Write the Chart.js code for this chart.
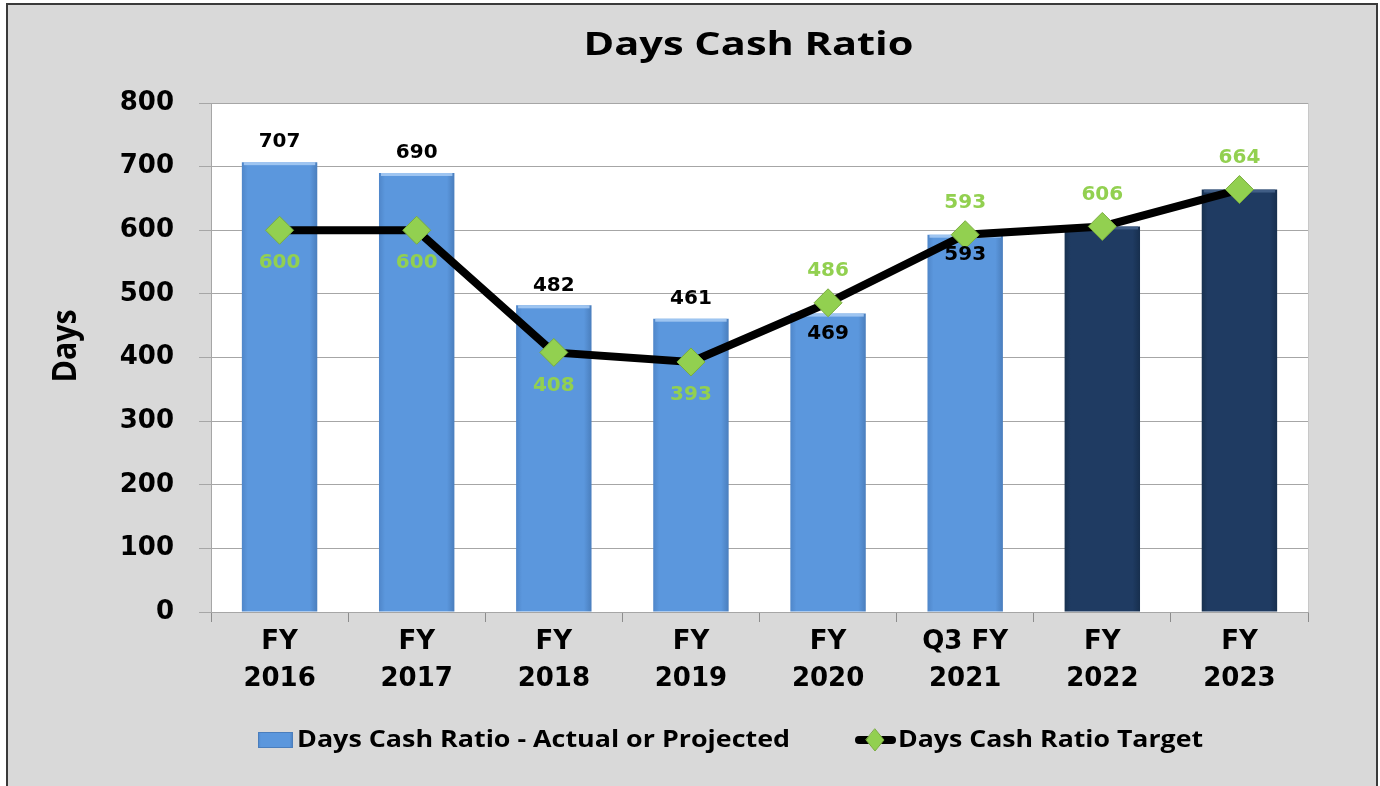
<!DOCTYPE html>
<html><head><meta charset="utf-8">
<script src="https://cdn.jsdelivr.net/npm/chart.js@4.4.1/dist/chart.umd.min.js"></script>
<style>
html,body{margin:0;padding:0;background:#fff;width:1380px;height:786px;overflow:hidden}
#frame{position:absolute;left:6px;top:3px;width:1372px;height:820px;border:2px solid #3a3a3a;background:#d9d9d9;box-sizing:border-box}
#wrap{position:absolute;left:0;top:0;width:1380px;height:786px}
</style></head><body>
<div id="frame"></div>
<div id="wrap"><canvas id="c"></canvas></div>
<script>
const categories = [['FY','2016'],['FY','2017'],['FY','2018'],['FY','2019'],['FY','2020'],['Q3 FY','2021'],['FY','2022'],['FY','2023']];
const actualValues = [707, 690, 482, 461, 469, 593, 606, 664];
const targetValues = [600, 600, 408, 393, 486, 593, 606, 664];
const yTicks = [0, 100, 200, 300, 400, 500, 600, 700, 800];
const barKinds = ['actual','actual','actual','actual','actual','actual','projected','projected'];
const barLabelPlacement = ['above','above','above','above','inside','inside',null,null];
const targetLabelPlacement = ['below','below','below','below','above','above','above','above'];
const seriesNames = ['Days Cash Ratio - Actual or Projected', 'Days Cash Ratio Target'];
const chartTitle = 'Days Cash Ratio';
const yTitle = 'Days';

const BAR_PCT = 0.55;
const labelFont = "bold 20px 'DejaVu Sans'";
const GREEN = '#92d050';

function barGradient(ctx, x0, x1, kind) {
  if (!isFinite(x0) || !isFinite(x1) || x1 <= x0) return kind === 'actual' ? '#5b97dd' : '#1f3b62';
  const g = ctx.createLinearGradient(x0, 0, x1, 0);
  if (kind === 'actual') {
    g.addColorStop(0, '#4f86c9'); g.addColorStop(0.08, '#5b97dd');
    g.addColorStop(0.9, '#5b97dd'); g.addColorStop(1, '#4a7ebd');
  } else {
    g.addColorStop(0, '#18314f'); g.addColorStop(0.08, '#1f3b62');
    g.addColorStop(0.9, '#1f3b62'); g.addColorStop(1, '#172f4e');
  }
  return g;
}

function fitText(ctx, text, x, y, width, align) {
  const w = ctx.measureText(text).width;
  const sx = width / w;
  ctx.save();
  ctx.translate(x, y);
  ctx.scale(sx, 1);
  ctx.textAlign = align;
  ctx.fillText(text, 0, 0);
  ctx.restore();
}

const decor = {
  id: 'decor',
  beforeDraw(chart) {
    const {ctx, chartArea: a} = chart;
    ctx.save();
    ctx.fillStyle = '#ffffff';
    ctx.fillRect(a.left, a.top, a.right - a.left, a.bottom - a.top);
    ctx.strokeStyle = '#c8c8c8';
    ctx.lineWidth = 1;
    ctx.beginPath();
    ctx.moveTo(a.right + 0.5, a.top); ctx.lineTo(a.right + 0.5, a.bottom);
    ctx.stroke();
    ctx.restore();
  },
  afterDatasetDraw(chart, args) {
    if (args.index !== 1) return;
    const {ctx} = chart;
    ctx.save();
    args.meta.data.forEach((el, i) => {
      const half = el.width / 2;
      ctx.fillStyle = barKinds[i] === 'actual' ? 'rgba(170,205,245,0.85)' : 'rgba(70,100,140,0.85)';
      ctx.fillRect(el.x - half + 2, el.y, el.width - 4, 3);
    });
    ctx.restore();
  },
  afterDatasetsDraw(chart) {
    const {ctx} = chart;
    const barMeta = chart.getDatasetMeta(1);
    const lineMeta = chart.getDatasetMeta(0);
    ctx.save();
    ctx.font = labelFont;
    ctx.textAlign = 'center';
    ctx.textBaseline = 'middle';
    barMeta.data.forEach((el, i) => {
      const p = barLabelPlacement[i];
      if (!p) return;
      ctx.fillStyle = '#000';
      const y = p === 'above' ? el.y - 20 : el.y + 20;
      ctx.fillText(String(actualValues[i]), el.x, y);
    });
    lineMeta.data.forEach((el, i) => {
      const p = targetLabelPlacement[i];
      ctx.fillStyle = GREEN;
      const y = p === 'above' ? el.y - 32 : el.y + 33;
      ctx.fillText(String(targetValues[i]), el.x, y);
    });
    ctx.restore();
  },
  afterDraw(chart) {
    const {ctx, chartArea: a} = chart;
    ctx.save();
    ctx.fillStyle = '#000';
    ctx.font = "bold 32px 'Open Sans'";
    ctx.textBaseline = 'alphabetic';
    fitText(ctx, chartTitle, (a.left + a.right) / 2 - 11, 55, 330, 'center');
    ctx.save();
    ctx.translate(66, 346);
    ctx.rotate(-Math.PI / 2);
    ctx.font = "bold 34px 'Open Sans'";
    ctx.textBaseline = 'middle';
    fitText(ctx, yTitle, 0, 0, 73, 'center');
    ctx.restore();
    const ly = 740;
    ctx.fillStyle = barGradient(ctx, 258, 293, 'actual');
    ctx.fillRect(258, ly - 8, 35, 16);
    ctx.strokeStyle = '#4a7ebd'; ctx.lineWidth = 1;
    ctx.strokeRect(258.5, ly - 7.5, 34, 15);
    ctx.fillStyle = '#000';
    ctx.font = "bold 23px 'Open Sans'";
    ctx.textBaseline = 'middle';
    fitText(ctx, seriesNames[0], 297, ly, 493, 'left');
    ctx.strokeStyle = '#000'; ctx.lineWidth = 8; ctx.lineCap = 'round';
    ctx.beginPath(); ctx.moveTo(859, ly); ctx.lineTo(892, ly); ctx.stroke();
    ctx.fillStyle = GREEN; ctx.strokeStyle = '#7aac3f'; ctx.lineWidth = 1;
    ctx.beginPath();
    ctx.moveTo(875, ly - 11); ctx.lineTo(884, ly); ctx.lineTo(875, ly + 11); ctx.lineTo(866, ly); ctx.closePath();
    ctx.fill(); ctx.stroke();
    ctx.fillStyle = '#000';
    fitText(ctx, seriesNames[1], 898, ly, 305, 'left');
    ctx.restore();
  }
};

new Chart(document.getElementById('c'), {
  data: {
    labels: categories,
    datasets: [
      {
        type: 'line', label: seriesNames[1], data: targetValues, order: 0,
        borderColor: '#000', borderWidth: 8, tension: 0,
        pointStyle: 'rectRot', pointRadius: 14, pointHoverRadius: 14,
        pointBackgroundColor: GREEN, pointBorderColor: '#7aac3f', pointBorderWidth: 1
      },
      {
        type: 'bar', label: seriesNames[0], data: actualValues, order: 1,
        barPercentage: BAR_PCT, categoryPercentage: 1,
        borderWidth: 0,
        backgroundColor: (c) => {
          const xs = c.chart.scales && c.chart.scales.x;
          const kind = barKinds[c.dataIndex] || 'actual';
          if (!xs || c.dataIndex === undefined || !isFinite(xs.width) || xs.width <= 0) return kind === 'actual' ? '#5b97dd' : '#1f3b62';
          const cx = xs.getPixelForValue(c.dataIndex);
          const half = xs.width / categories.length * BAR_PCT / 2;
          return barGradient(c.chart.ctx, cx - half, cx + half, kind);
        }
      }
    ]
  },
  options: {
    responsive: true, maintainAspectRatio: false, animation: false,
    layout: { padding: { left: 0, right: 72, top: 103, bottom: 100 } },
    plugins: { legend: { display: false }, title: { display: false }, tooltip: { enabled: false } },
    scales: {
      x: {
        offset: true,
        grid: { offset: true, drawOnChartArea: false, drawTicks: true, tickLength: 10, color: '#8c8c8c' },
        border: { color: '#a6a6a6', width: 1 },
        ticks: { color: '#000', font: { family: 'DejaVu Sans', weight: 'bold', size: 26, lineHeight: 1.42 }, padding: 2, maxRotation: 0, autoSkip: false },
        afterFit: (s) => { s.height = 74; }
      },
      y: {
        min: 0, max: 800,
        afterBuildTicks: (s) => { s.ticks = yTicks.map(v => ({ value: v })); },
        grid: { color: '#a6a6a6', tickLength: 12, drawTicks: true },
        border: { color: '#a6a6a6', width: 1 },
        ticks: { color: '#000', font: { family: 'DejaVu Sans', weight: 'bold', size: 26 }, padding: 25 },
        afterFit: (s) => { s.width = 211; }
      }
    }
  },
  plugins: [decor]
});
</script>
</body></html>
